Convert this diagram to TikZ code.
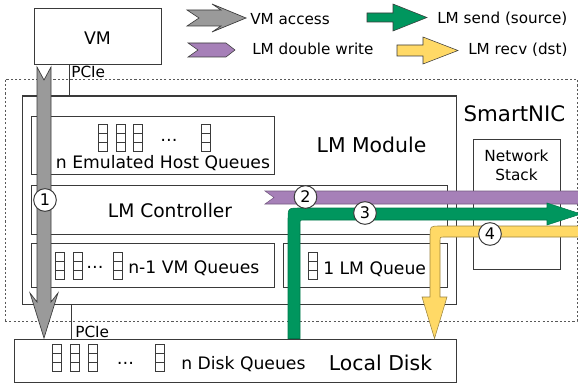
\documentclass[tikz,border=0pt]{standalone}
\usepackage{fontspec}
\setmainfont{DejaVu Sans}
\usetikzlibrary{fit}
\definecolor{agray}{HTML}{9A9A9A}
\definecolor{apurple}{HTML}{A680B8}
\definecolor{agreen}{HTML}{00965E}
\definecolor{ayellow}{HTML}{FFD966}
\definecolor{edge}{HTML}{3A3A3A}
\begin{document}
\begin{tikzpicture}[x=0.75pt,y=-0.75pt,
  box/.style={draw=edge, line width=0.75pt, inner sep=0pt, fill=white},
  nicbox/.style={draw=edge!85, line width=0.6pt, inner sep=0pt, dash pattern=on 1.6pt off 1.6pt},
  conn/.style={draw=edge, line width=0.75pt},
  iconln/.style={draw=edge, line width=0.6pt},
  txt/.style={inner sep=0pt, text=black},
  fL/.style={font=\fontsize{11.4}{13}\selectfont},
  fS/.style={font=\fontsize{11.5}{13}\selectfont},
  fM/.style={font=\fontsize{12.9}{15}\selectfont},
  fB/.style={font=\fontsize{15.3}{18}\selectfont},
  circ/.style={circle, draw=edge, fill=white, line width=0.75pt, minimum size=17pt, inner sep=0pt, font=\fontsize{12}{12}\selectfont},
  garrow/.style={fill=agray, draw=edge, line width=0.5pt},
  parrow/.style={fill=apurple, draw=apurple!70!black, line width=0.4pt},
  grarrow/.style={fill=agreen, draw=agreen!80!black, line width=0.4pt},
  yarrow/.style={fill=ayellow, draw=ayellow!60!black, line width=0.4pt},
  qicon/.pic={\draw[iconln] (0,0) rectangle (9,27) (0,9) -- (9,9) (0,18) -- (9,18);}
]
\useasboundingbox (0,0) rectangle (578,385);
\clip (0,0) rectangle (578,385);

% legend
\filldraw[garrow] (187,10) -- (221,10) -- (212,4) -- (246,18) -- (212,32) -- (221,26) -- (187,26) -- (199,18) -- cycle;
\node[txt,fL,anchor=base west] (lgA) at (250,25) {VM access};
\filldraw[parrow,draw=edge] (188,43) -- (226,43) -- (235,50) -- (226,57) -- (188,57) -- (198,50) -- cycle;
\node[txt,fL,anchor=base west] (lgB) at (252,55) {LM double write};
\filldraw[grarrow,draw=edge] (367,13) -- (393,13) -- (393,4) -- (427,17.5) -- (393,31) -- (393,22) -- (367,22) -- cycle;
\node[txt,fL,anchor=base west] (lgC) at (437,24) {LM send (source)};
\filldraw[yarrow,draw=edge] (397,45) -- (423,45) -- (423,37) -- (458,50.5) -- (423,64) -- (423,56) -- (397,56) -- cycle;
\node[txt,fL,anchor=base west] (lgD) at (468,55) {LM recv (dst)};

% boxes
\node[box,fit={(34,9) (161,65)}] (vm) {};
\node[nicbox,fit={(5,79) (577,321)}] (nic) {};
\node[box,fit={(22,96) (456,304)}] (lmm) {};
\node[box,fit={(473,139) (560,269)}] (net) {};
\node[box,fit={(31,116) (274,174)}] (emuq) {};
\node[box,fit={(31,185) (447,234)}] (lmc) {};
\node[box,fit={(31,243) (274,287)}] (vmq) {};
\node[box,fit={(283,243) (447,287)}] (lmq) {};
\node[box,fit={(14,339) (456,382)}] (disk) {};

% PCIe links
\coordinate (pA) at (69,0);
\coordinate (pB) at (71,0);
\draw[conn] (vm.south -| pA) -- (lmm.north -| pA);
\draw[conn] (lmm.south -| pB) -- (disk.north -| pB);
\node[txt,fS,anchor=base west] (pcieA) at (71,78) {PCIe};
\node[txt,fS,anchor=base west] (pcieB) at (75,337) {PCIe};

% texts
\node[txt,font=\fontsize{13}{15}\selectfont,anchor=base] (vmt) at (97.5,45) {VM};
\node[txt,font=\fontsize{16}{19}\selectfont,anchor=base] (nict) at (514.5,122) {SmartNIC};
\node[txt,fB,anchor=base] (lmmt) at (371.5,152) {LM Module};
\node[txt,fS,anchor=base] (netA) at (516.5,161) {Network};
\node[txt,fS,anchor=base] (netB) at (516.5,180) {Stack};
\node[txt,fM,anchor=base] (emut) at (163,168) {n Emulated Host Queues};
\node[txt,font=\fontsize{14}{16}\selectfont,anchor=base] (lmct) at (170,217) {LM Controller};
\node[txt,fM,anchor=base west] (vmqt) at (128,273) {n-1 VM Queues};
\node[txt,fM,anchor=base west] (lmqt) at (323,274) {1 LM Queue};
\node[txt,fM,anchor=base west] (diskq) at (181,369) {n Disk Queues};
\node[txt,fB,anchor=base] (diskt) at (380.5,370) {Local Disk};

% queue icons
\pic at (98,124) {qicon}; \pic at (116,124) {qicon}; \pic at (133,124) {qicon}; \pic at (201,124) {qicon};
\node[txt,fM,anchor=base] (dotsA) at (169,141) {…};
\pic at (55,252) {qicon}; \pic at (73,252) {qicon}; \pic at (113,252) {qicon};
\node[txt,fM,anchor=base] (dotsB) at (95,268) {…};
\pic at (308,252) {qicon};
\pic at (52,344) {qicon}; \pic at (70,344) {qicon}; \pic at (88,344) {qicon}; \pic at (155,344) {qicon};
\node[txt,fM,anchor=base] (dotsC) at (125.5,364) {…};

% flows
\filldraw[garrow] (37,67) -- (44,80) -- (51,67) -- (51,302) -- (58,293) -- (44,338) -- (30,293) -- (37,302) -- cycle;
\filldraw[parrow] (265,191) -- (582,191) -- (582,204) -- (265,204) -- (274,197.5) -- cycle;
\filldraw[grarrow] (288,0 |- disk.north) -- (288,220) .. controls (288,208) .. (300,208) -- (547,208) -- (547,203) -- (581,214) -- (547,225) -- (547,220) -- (304,220) .. controls (300,220) .. (300,224) -- (300,0 |- disk.north) -- cycle;
\filldraw[yarrow] (582,226) -- (440,226) .. controls (430,226) .. (430,236) -- (430,297) -- (422,297) -- (434.5,0 |- disk.north) -- (447,297) -- (440,297) -- (440,240) .. controls (440,237) .. (443,237) -- (582,237) -- cycle;

% step markers
\node[circ] (c1) at (45,200) {1};
\node[circ] (c2) at (305.5,197) {2};
\node[circ] (c3) at (365,213) {3};
\node[circ] (c4) at (490,234) {4};
\end{tikzpicture}
\end{document}
